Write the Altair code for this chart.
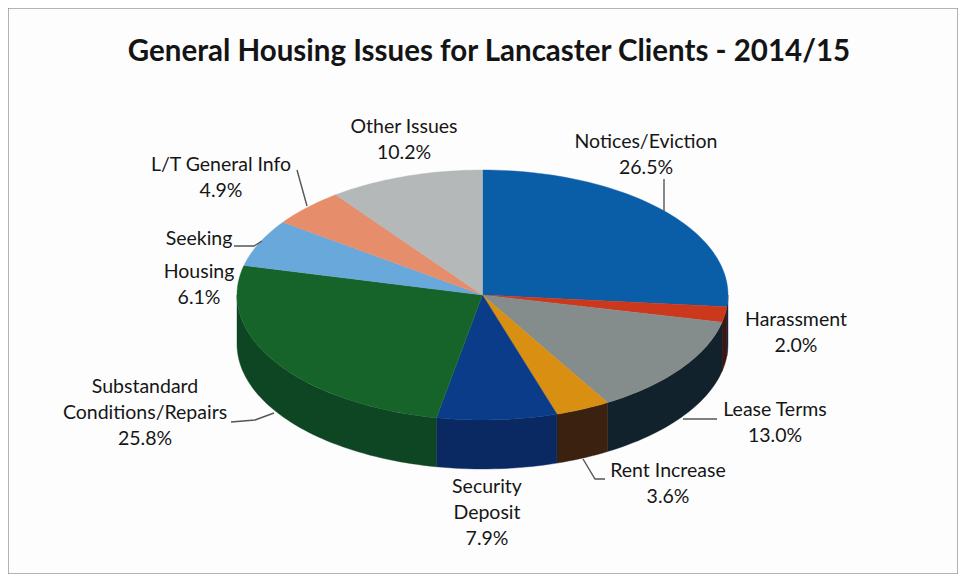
import math
import altair as alt
import pandas as pd

# ---- chart values ----
CATEGORIES = ["Notices/Eviction", "Harassment", "Lease Terms", "Rent Increase", "Security Deposit",
              "Substandard Conditions/Repairs", "Seeking Housing", "L/T General Info", "Other Issues"]
SHARES = [26.5, 2.0, 13.0, 3.6, 7.9, 25.8, 6.1, 4.9, 10.2]
TOP_COLORS = ["#0a5ea8", "#cb381b", "#848c8c", "#d98f12", "#0a3c8a", "#17642b", "#69a8db", "#e68e6c", "#b4b8b8"]
WALL_COLORS = ["#07305f", "#3e1610", "#12222c", "#3a2110", "#0a2862", "#0e4522", "#2f5f88", "#8a5540", "#6a6d6e"]
TITLE = "General Housing Issues for Lancaster Clients - 2014/15"

# label lines per category, in category order
LABEL_LINES = [["Notices/Eviction"], ["Harassment"], ["Lease Terms"], ["Rent Increase"], ["Security", "Deposit"],
               ["Substandard", "Conditions/Repairs"], ["Seeking", "Housing"], ["L/T General Info"], ["Other Issues"]]

# ---- layout (pixels inside the chart) ----
W, H = 950, 566
CX, CY, RX, RY, DEPTH = 474.5, 287, 245.5, 125, 49
LABEL_CENTER = [(638, [133, 159]), (788, [311, 337]), (767, [401, 427]), (660, [462, 488]),
                (479, [478, 504, 530]), (137, [378, 404, 430]), (191, [230, 263, 289]),
                (213, [156, 182]), (396, [118, 144])]
LEADERS = [[(656, 171), (656, 203)],
           [(289, 162), (299, 198)],
           [(226, 238), (246, 238), (254, 233)],
           [(223, 414), (247, 412), (266, 405)],
           [(675, 411), (709, 411)],
           [(575, 451), (587, 471), (597, 471)]]


def pt(deg, dy=0.0):
    a = math.radians(deg)
    return [CX + RX * math.sin(a), CY - RY * math.cos(a) + dy]


def arc(a0, a1, dy=0.0):
    n = max(2, int(abs(a1 - a0) / 1.5) + 1)
    return [pt(a0 + (a1 - a0) * i / n, dy) for i in range(n + 1)]


features = []
edges = [0.0]
for s in SHARES:
    edges.append(edges[-1] + s * 3.6)

# side wall: only the front half of the ellipse is visible
for i, c in enumerate(WALL_COLORS):
    a0, a1 = max(edges[i], 90), min(edges[i + 1], 270)
    if a1 > a0:
        ring = arc(a0, a1) + arc(a1, a0, DEPTH)
        ring.append(ring[0])
        features.append({"type": "Feature", "properties": {"color": c, "name": CATEGORIES[i]},
                         "geometry": {"type": "Polygon", "coordinates": [ring]}})
# top face
for i, c in enumerate(TOP_COLORS):
    ring = [[CX, CY]] + arc(edges[i], edges[i + 1]) + [[CX, CY]]
    features.append({"type": "Feature", "properties": {"color": c, "name": CATEGORIES[i]},
                     "geometry": {"type": "Polygon", "coordinates": [ring]}})

pie = alt.Chart(alt.InlineData(values={"type": "FeatureCollection", "features": features},
                               format=alt.DataFormat(type="json", property="features"))).mark_geoshape(
    strokeWidth=0.4
).encode(
    fill=alt.Fill("properties.color:N", scale=None),
    stroke=alt.Stroke("properties.color:N", scale=None),
).project(type="identity", scale=1, translate=[0, 0])

rows = []
for i, lines in enumerate(LABEL_LINES):
    x, ys = LABEL_CENTER[i]
    for t, y in zip(lines + [f"{SHARES[i]:.1f}%"], ys):
        rows.append({"x": x, "y": y + 1, "t": t})
labels = alt.Chart(pd.DataFrame(rows)).mark_text(
    font="Lato", fontSize=19.5, color="#161616", align="center", baseline="middle"
).encode(x=alt.X("x:Q", scale=None), y=alt.Y("y:Q", scale=None), text="t:N")

lead_rows = []
for k, path in enumerate(LEADERS):
    for j, (x, y) in enumerate(path):
        lead_rows.append({"k": k, "j": j, "x": x, "y": y})
leaders = alt.Chart(pd.DataFrame(lead_rows)).mark_line(color="#555555", strokeWidth=1.4).encode(
    x=alt.X("x:Q", scale=None), y=alt.Y("y:Q", scale=None), detail="k:N", order="j:Q")

chart = alt.layer(pie, leaders, labels).properties(
    width=W, height=H,
    padding=0,
    autosize=alt.AutoSizeParams(type="none"),
    background="#fdfdfd",
    title=alt.TitleParams(TITLE, font="Lato", fontSize=29.5, fontWeight="bold", color="#141414",
                          anchor="middle", frame="group", dx=6, dy=63),
).configure_view(stroke="#9a9a9a", strokeWidth=1.5)

chart.save("out.html", embed_options={"renderer": "svg", "actions": False})
